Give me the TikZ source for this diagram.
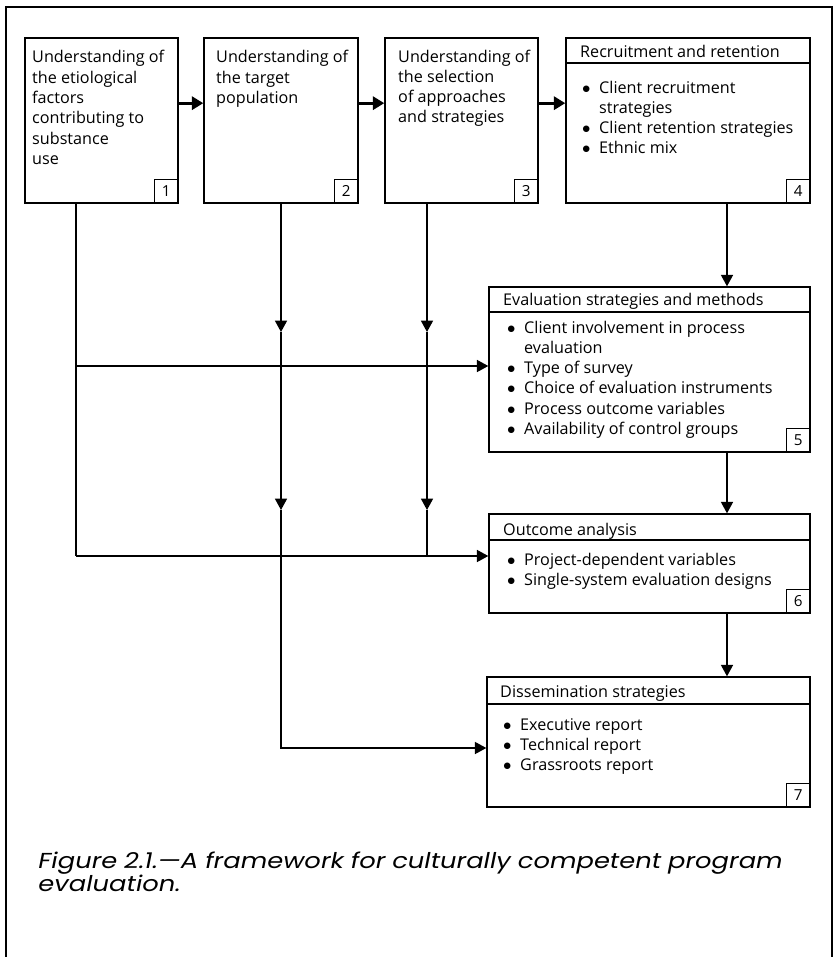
\documentclass[tikz,border=0pt]{standalone}
\usepackage{fontspec}
\setmainfont{Open Sans}
\newfontfamily\capfont{Poppins}[FakeSlant=0.2,FakeStretch=1.19]
\usetikzlibrary{arrows.meta,fit}

\newcommand{\itm}[1]{\makebox[5.1mm][l]{$\bullet$}#1}
\newcommand{\cnt}[1]{\hspace{5.1mm}#1}

\tikzset{
  stage/.style={draw,line width=1.2pt,inner sep=0pt},
  numbox/.style={draw,line width=1.1pt,minimum size=7.1mm,inner sep=0pt,anchor=south east,font=\fontsize{13}{15}\selectfont},
  txt/.style={anchor=base west,inner sep=0pt,font=\fontsize{13.8}{17.3}\selectfont},
  link/.style={line width=1.2pt},
  flow/.style={link,-{Triangle[length=3.4mm,width=3.6mm]}},
  bigflow/.style={line width=2.4pt,-{Triangle[length=3.4mm,width=3.9mm]}}
}

\begin{document}
\begin{tikzpicture}[x=0.3mm,y=-0.3mm]
\useasboundingbox (0,0) rectangle (834,957);

% outer frame
\draw[line width=0.9pt] (6,957) -- (6,7) -- (832,7) -- (832,957);

%% boxes
% top row
\node[stage,fit={(25,38) (178,203)}] (s1) {};
\node[stage,fit={(204,38) (358,203)}] (s2) {};
\node[stage,fit={(385,38) (538,203)}] (s3) {};
\node[stage,fit={(566,38) (810,203)}] (s4) {};
% right column
\node[stage,fit={(489,287) (810,452)}] (s5) {};
\node[stage,fit={(489,514) (810,613)}] (s6) {};
\node[stage,fit={(487,677) (810,807)}] (s7) {};
% header rules
\draw[link] (s4.west |- 0,63) -- (s4.east |- 0,63);
\draw[link] (s5.west |- 0,312) -- (s5.east |- 0,312);
\draw[link] (s6.west |- 0,540) -- (s6.east |- 0,540);
\draw[link] (s7.west |- 0,704) -- (s7.east |- 0,704);

%% texts
\node[txt] (t1) at (32,63) {\begin{tabular}[t]{@{}l@{}}Understanding of\\the etiological\\factors\\contributing to\\substance\\use\end{tabular}};
\node[txt] (t2) at (216,63) {\begin{tabular}[t]{@{}l@{}}Understanding of\\the target\\population\end{tabular}};
\node[txt] (t3) at (398,62) {\begin{tabular}[t]{@{}l@{}}Understanding of\\the selection\\of approaches\\and strategies\end{tabular}};
\node[txt] (h4) at (580,58) {Recruitment and retention};
\node[txt] (l4) at (582,93) {\begin{tabular}[t]{@{}l@{}}\itm{Client recruitment}\\\cnt{strategies}\\\itm{Client retention strategies}\\\itm{Ethnic mix}\end{tabular}};
\node[txt] (h5) at (503,305) {Evaluation strategies and methods};
\node[txt] (l5) at (507,333) {\begin{tabular}[t]{@{}l@{}}\itm{Client involvement in process}\\\cnt{evaluation}\\\itm{Type of survey}\\\itm{Choice of evaluation instruments}\\\itm{Process outcome variables}\\\itm{Availability of control groups}\end{tabular}};
\node[txt] (h6) at (503,535) {Outcome analysis};
\node[txt] (l6) at (507,565) {\begin{tabular}[t]{@{}l@{}}\itm{Project-dependent variables}\\\itm{Single-system evaluation designs}\end{tabular}};
\node[txt] (h7) at (500,697) {Dissemination strategies};
\node[txt] (l7) at (503,730) {\begin{tabular}[t]{@{}l@{}}\itm{Executive report}\\\itm{Technical report}\\\itm{Grassroots report}\end{tabular}};

% numbers
\node[numbox] (n1) at (s1.south east) {1};
\node[numbox] (n2) at (s2.south east) {2};
\node[numbox] (n3) at (s3.south east) {3};
\node[numbox] (n4) at (s4.south east) {4};
\node[numbox] (n5) at (s5.south east) {5};
\node[numbox] (n6) at (s6.south east) {6};
\node[numbox] (n7) at (s7.south east) {7};

%% connectors
\coordinate (o1) at (76,203);
\coordinate (j1) at (76,366);
\coordinate (k1) at (76,556);
\coordinate (a2) at (281,332);
\coordinate (b2) at (281,510);
\coordinate (c2) at (281,748);
\coordinate (o3) at (427,203);
\coordinate (a3) at (427,332);
\coordinate (b3) at (427,510);
\coordinate (k3) at (427,556);
\coordinate (o4) at (727,203);
% top row
\draw[bigflow] ([yshift=5.2mm]s1.east) -- ([yshift=5.2mm]s2.west);
\draw[bigflow] ([yshift=5.2mm]s2.east) -- ([yshift=5.2mm]s3.west);
\draw[bigflow] ([yshift=5.2mm]s3.east) -- ([yshift=5.2mm]s4.west);
% from box 1
\draw[link] (o1) -- (k1);
\draw[flow] (j1) -- (j1 -| s5.west);
\draw[flow] (k1) -- (k1 -| s6.west);
% from box 2
\draw[flow] (s2.south) -- (a2);
\draw[flow] (a2) -- (b2);
\draw[flow] (b2) -- (c2) -- (c2 -| s7.west);
% from box 3
\draw[flow] (o3) -- (a3);
\draw[flow] (a3) -- (b3);
\draw[link] (b3) -- (k3);
% right column
\draw[flow] (o4) -- (o4 |- s5.north);
\draw[flow] (o4 |- s5.south) -- (o4 |- s6.north);
\draw[flow] (o4 |- s6.south) -- (o4 |- s7.north);

% caption
\node[anchor=base west,inner sep=0pt,font=\capfont\fontsize{18.5}{19}\selectfont] (cap) at (37,868) {\begin{tabular}[t]{@{}l@{}}Figure 2.1.—A framework for culturally competent program\\evaluation.\end{tabular}};

\end{tikzpicture}
\end{document}
